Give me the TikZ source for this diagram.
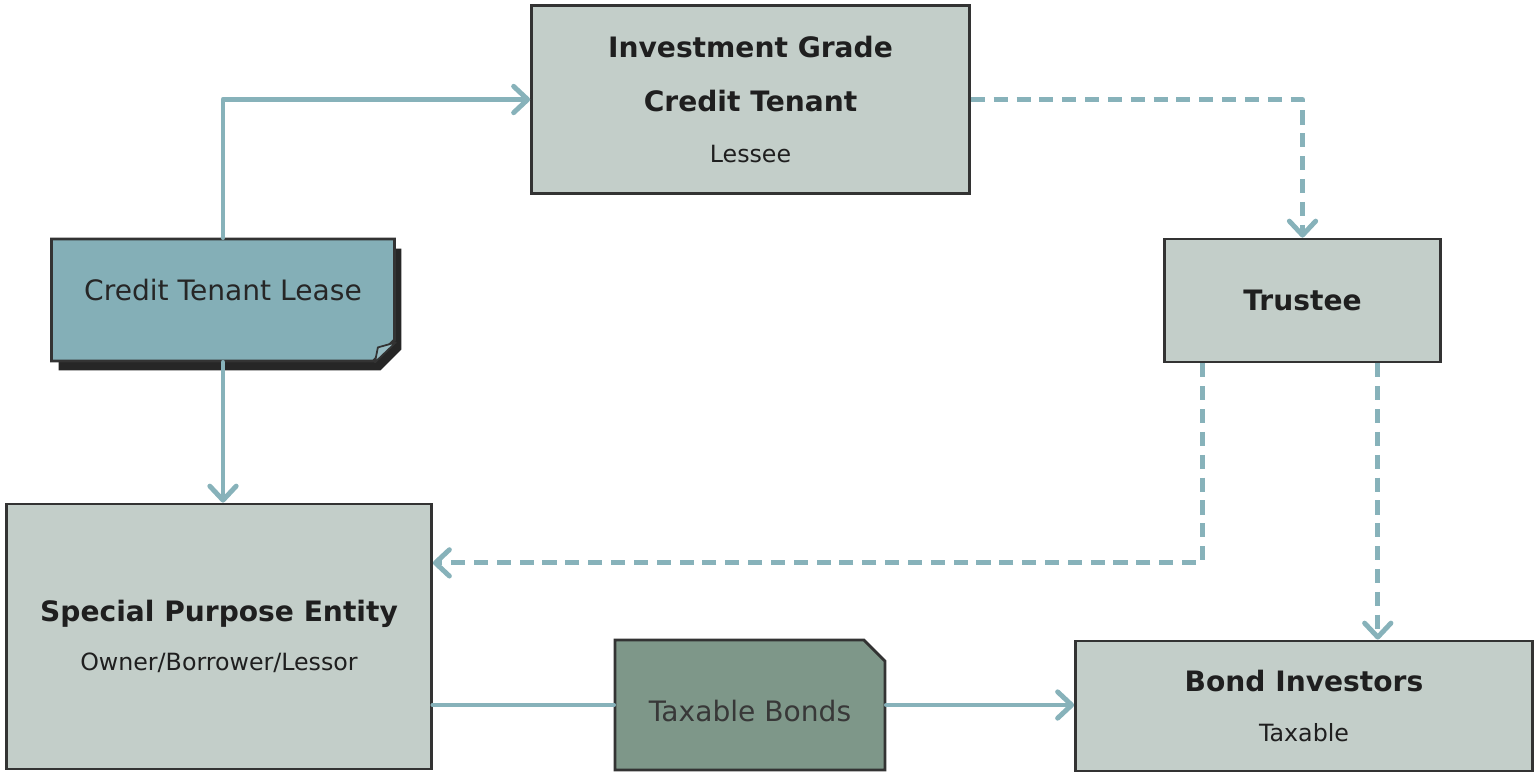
\documentclass[tikz,border=0pt]{standalone}
\usepackage{fontspec}
\setmainfont{DejaVu Sans}
\usepackage{xcolor}
\usetikzlibrary{positioning,arrows.meta,calc,shapes.misc,shadows}

\definecolor{boxfill}{HTML}{C3CEC9}
\definecolor{boxline}{HTML}{333333}
\definecolor{leasefill}{HTML}{84AFB7}
\definecolor{bondfill}{HTML}{7E9789}
\definecolor{flow}{HTML}{87B2BA}

\tikzset{
	party/.style={rectangle, draw=boxline, fill=boxfill, line width=1.6pt, align=center, text=black!88,
		font=\fontsize{13.5}{28}\selectfont},
	paper/.style={chamfered rectangle, chamfered rectangle xsep=0.21cm, chamfered rectangle ysep=0.21cm,
		draw=boxline, line width=1.6pt, align=center, font=\fontsize{16}{20}\selectfont},
	flowline/.style={draw=flow, line width=2.8pt, line cap=round, line join=round,
		-{Straight Barb[length=8pt, width=15pt, round]}},
	flowdash/.style={flowline, dash pattern=on 8pt off 5pt, line cap=butt}
}
\newcommand{\ttl}[1]{{\bfseries\fontsize{16}{31}\selectfont #1}}

\begin{document}
\begin{tikzpicture}[x=0.02cm, y=-0.02cm]
		\useasboundingbox (0,0) rectangle (1534,772);

		\node[party, minimum width=8.76cm, minimum height=3.76cm] (igct) at (750.5,99.5)
			{\ttl{Investment Grade}\\[3pt]\ttl{Credit Tenant}\\[1pt] Lessee};
		\node[party, minimum width=5.52cm, minimum height=2.46cm] (trustee) at (1302.5,300.5)
			{\ttl{Trustee}};
		\node[paper, fill=leasefill, chamfered rectangle corners=south east, minimum width=6.86cm, minimum height=2.44cm,
			drop shadow={shadow xshift=0.14cm, shadow yshift=-0.19cm, fill=black, opacity=0.85}, text=black!85,
			text height=0.3cm, text depth=0.29cm] (ctl) at (223,300)
			{Credit Tenant Lease};
		\node[party, minimum width=8.5cm, minimum height=5.3cm] (spe) at (219,636.5)
			{\ttl{Special Purpose Entity}\\ Owner/Borrower/Lessor};
		\node[paper, fill=bondfill, chamfered rectangle corners=north east, minimum width=5.4cm, minimum height=2.6cm,
			text=black!78, text height=0.72cm, text depth=0.06cm] (tb) at (750,705)
			{Taxable Bonds};
		\node[party, minimum width=9.14cm, minimum height=2.6cm] (bi) at (1304,706)
			{\ttl{Bond Investors}\\ Taxable};

		% folded corner of the lease
		\coordinate (ctlcorner) at (ctl.east |- ctl.south);
		\draw[boxline, line width=1pt, fill=leasefill!85!white, line join=round]
			($(ctlcorner)+(-21,0)$) -- ($(ctlcorner)+(-18,-15)$) -- ($(ctlcorner)+(0,-20)$) -- cycle;

		% lease flows
		\draw[flowline] (ctl.north) |- (igct.west);
		\draw[flowline] (ctl.south) -- (ctl.south |- spe.north);

		% payments through the trustee
		\draw[flowdash] (igct.east) -| (trustee.north);
		\coordinate (trleft) at ($(trustee.south west)!0.14!(trustee.south east)$);
		\coordinate (trright) at ($(trustee.south west)!0.77!(trustee.south east)$);
		\coordinate (spein) at ($(spe.north east)!0.225!(spe.south east)$);
		\draw[flowdash] (trleft) |- (spein);
		\draw[flowdash] (trright) -- (trright |- bi.north);

		% bonds
		\draw[flowline, -] (spe.east |- tb.west) -- (tb.west);
		\draw[flowline] (tb.east) -- (tb.east -| bi.west);
	\end{tikzpicture}
\end{document}
